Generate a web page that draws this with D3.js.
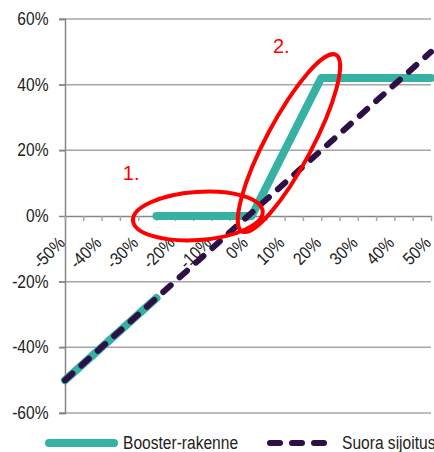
<!DOCTYPE html>
<html>
<head>
<meta charset="utf-8">
<script src="https://cdn.jsdelivr.net/npm/d3@7"></script>
<style>
    body { margin: 0; background: #fff; }
    svg text { font-family: "Liberation Sans", Arial, sans-serif; fill: #222; }
</style>
</head>
<body>
<div id="view"></div>
<script>
var xLabels = [-50, -40, -30, -20, -10, 0, 10, 20, 30, 40, 50];
var xMinor = [-50, -45, -40, -35, -30, -25, -20, -15, -10, -5, 0, 5, 10, 15, 20, 25, 30, 35, 40, 45, 50];
var yLabels = [-60, -40, -20, 0, 20, 40, 60];

// booster: lower leg follows the index, upper leg is the capped part
var boosterLow = [{x: -50, y: -50}, {x: -25, y: -25}];
var boosterHigh = [{x: -25, y: 0}, {x: 1, y: 0}, {x: 20, y: 42}, {x: 50, y: 42}];
var direct = [{x: -50, y: -50}, {x: 50, y: 50}];

var seriesNames = ['Booster-rakenne', 'Suora sijoitus'];

var notes = [
    {label: '1.', x: -13.7, y: 0, rx: 65, ry: 24, angle: -4, tx: -75, ty: -36},
    {label: '2.', x: 11.2, y: 22.2, rx: 100, ry: 23, angle: -62, tx: -16, ty: -90},
];

var W = 434, H = 452;
var TEAL = '#35b2a2', PURPLE = '#2e0f46', GRID = '#a6a6a6', AXIS = '#868686';
var NARROW = 0.89;

var svg = d3.select('#view').append('svg')
    .attr('width', W)
    .attr('height', H);

var x = d3.scaleLinear().domain([-50, 50]).range([65, 431]);
var y = d3.scaleLinear().domain([-60, 60]).range([413, 19]);
var pct = d => d + '%';

// horizontal grid
svg.append('g')
    .selectAll('line')
    .data(yLabels.filter(d => d != 0))
    .enter()
    .append('line')
    .attr('x1', 59).attr('x2', x(50))
    .attr('y1', d => y(d)).attr('y2', d => y(d))
    .attr('stroke', GRID)
    .attr('stroke-width', 1.5);

// y axis
var yAxis = svg.append('g')
    .attr('transform', `translate(${x(-50)}, 0)`)
    .call(d3.axisLeft(y).tickValues(yLabels).tickFormat(pct).tickSize(6));
yAxis.select('.domain').attr('stroke', AXIS).attr('stroke-width', 1.5);
yAxis.selectAll('.tick line').attr('stroke', AXIS).attr('stroke-width', 1.5);
yAxis.selectAll('text')
    .attr('x', 0)
    .attr('transform', `translate(-16.5, 0) scale(${NARROW}, 1)`)
    .style('font-size', '17.5px')
    .attr('fill', '#222');

// x axis at 0
var xAxis = svg.append('g')
    .attr('transform', `translate(0, ${y(0)})`)
    .call(d3.axisBottom(x).tickValues(xMinor).tickFormat('').tickSize(5).tickSizeOuter(0));
xAxis.select('.domain').attr('stroke', AXIS).attr('stroke-width', 1.5);
xAxis.selectAll('.tick line').attr('stroke', GRID).attr('stroke-width', 1.5);

svg.append('g')
    .selectAll('text')
    .data(xLabels)
    .enter()
    .append('text')
    .attr('transform', d => `translate(${x(d) + 1}, ${y(0) + 28}) rotate(-45) scale(${NARROW}, 1)`)
    .attr('text-anchor', 'end')
    .style('font-size', '17.5px')
    .text(pct);

var line = d3.line().x(d => x(d.x)).y(d => y(d.y));

svg.append('g')
    .selectAll('path')
    .data([boosterLow, boosterHigh])
    .enter()
    .append('path')
    .attr('d', line)
    .attr('fill', 'none')
    .attr('stroke', TEAL)
    .attr('stroke-width', 8)
    .attr('stroke-linecap', 'round')
    .attr('stroke-linejoin', 'round');

svg.append('path')
    .attr('d', line(direct))
    .attr('fill', 'none')
    .attr('stroke', PURPLE)
    .attr('stroke-width', 6)
    .attr('stroke-dasharray', '10,12')
    .attr('stroke-linecap', 'round');

// red hand drawn annotations
var ann = svg.append('g')
    .selectAll('g')
    .data(notes)
    .enter()
    .append('g')
    .attr('transform', d => `translate(${x(d.x)}, ${y(d.y)})`);
ann.append('ellipse')
    .attr('rx', d => d.rx)
    .attr('ry', d => d.ry)
    .attr('transform', d => `rotate(${d.angle})`)
    .attr('fill', 'none')
    .attr('stroke', '#ff0000')
    .attr('stroke-width', 4);
ann.append('text')
    .attr('x', d => d.tx)
    .attr('y', d => d.ty)
    .style('fill', '#ff0000')
    .style('font-size', '20px')
    .text(d => d.label);

// legend
var legend = svg.append('g').attr('transform', 'translate(0, 443)');
legend.append('line')
    .attr('x1', 49).attr('x2', 114)
    .attr('stroke', TEAL).attr('stroke-width', 8).attr('stroke-linecap', 'round');
legend.append('line')
    .attr('x1', 270).attr('x2', 325)
    .attr('stroke', PURPLE).attr('stroke-width', 6)
    .attr('stroke-dasharray', '10,12').attr('stroke-linecap', 'round');
legend.selectAll('text')
    .data(seriesNames)
    .enter()
    .append('text')
    .attr('transform', (d, i) => `translate(${i ? 342 : 123}, 5.5) scale(0.82, 1)`)
    .style('font-size', '19px')
    .text(d => d);
</script>
</body>
</html>
